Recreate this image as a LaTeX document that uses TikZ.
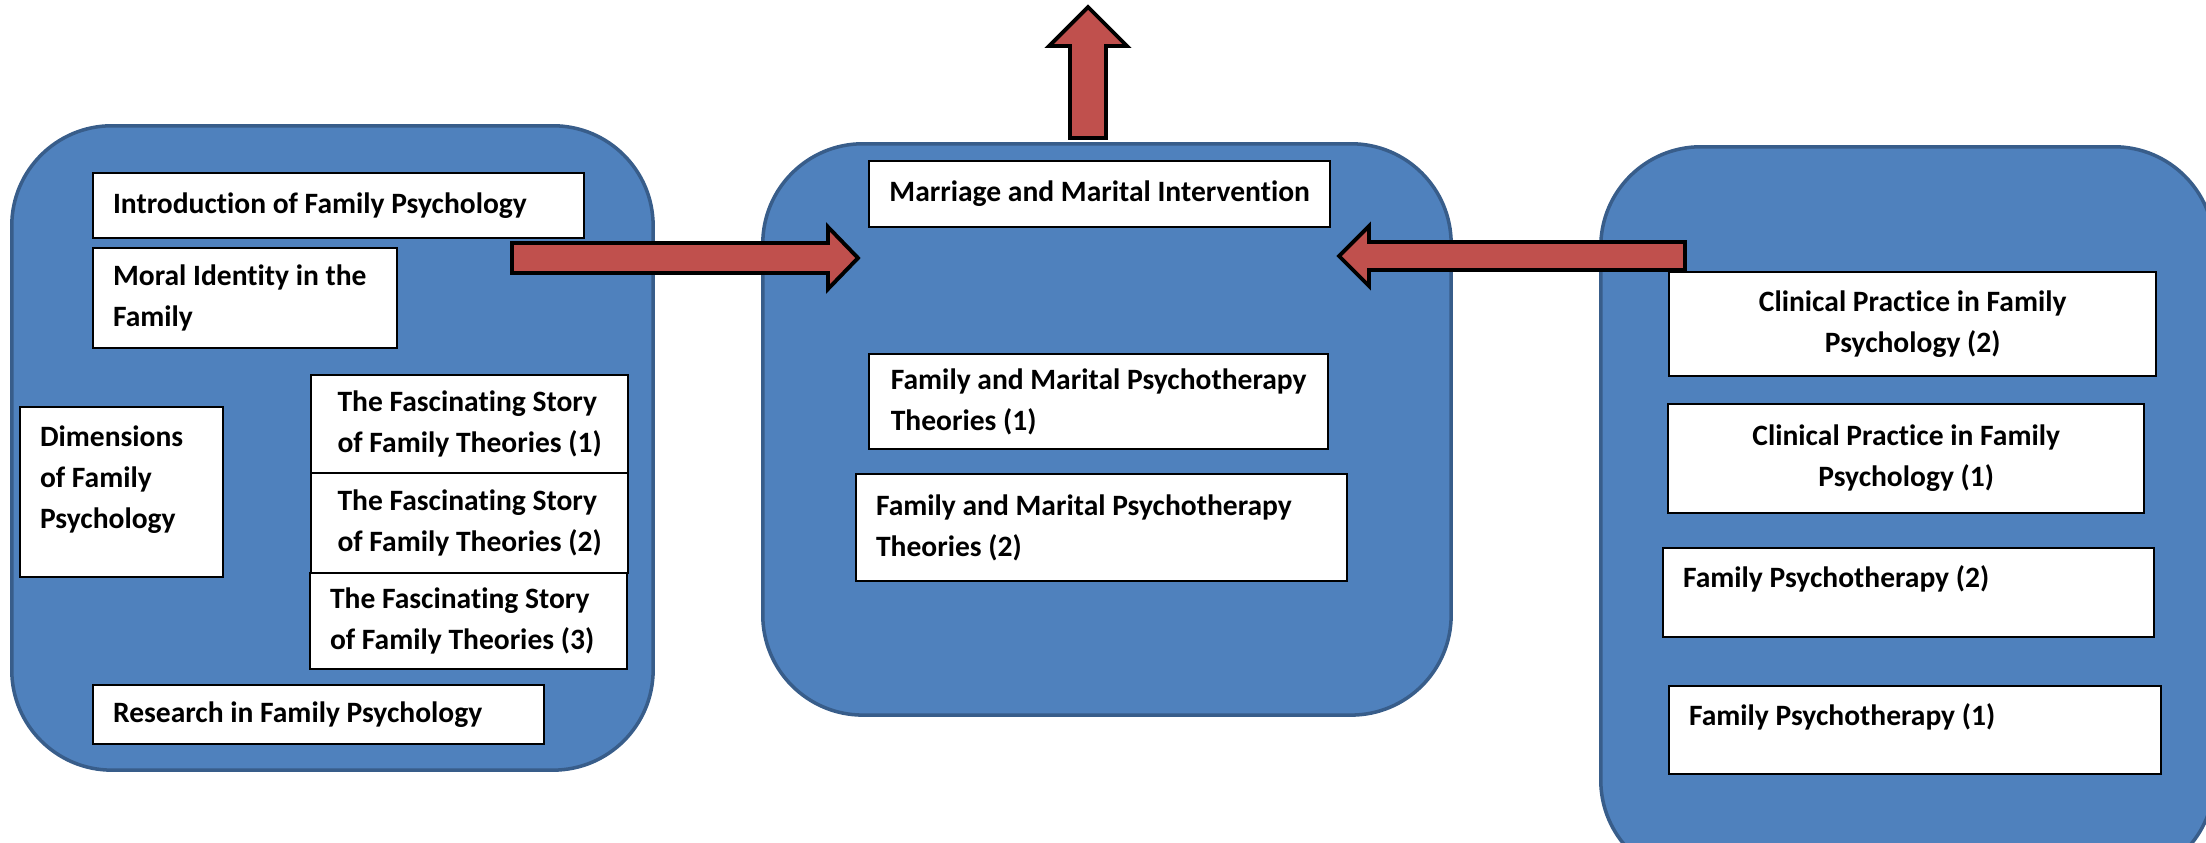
\documentclass[tikz,border=0pt]{standalone}
\usepackage{fontspec}
\setmainfont{Carlito}[Ligatures=NoCommon]
\usepackage{tikz}
\usetikzlibrary{calc}
\definecolor{panelblue}{HTML}{4F81BD}
\definecolor{panelline}{HTML}{385D8A}
\definecolor{arrowred}{HTML}{C0504D}
\newcommand{\famfont}{\bfseries\fontsize{8.4}{11.67}\selectfont}
\tikzset{
  panel/.style={
    rectangle, rounded corners=1cm, draw=panelline, fill=panelblue,
    line width=1pt, anchor=north west
  },
  topic/.style={
    rectangle, draw=black, fill=white, line width=0.6pt,
    inner xsep=0.2cm, inner ysep=0pt, align=flush left, anchor=north west,
    font=\famfont
  },
  blockarrow/.style={
    draw=black, fill=arrowred, line width=1.1pt, line join=miter
  }
}

\begin{document}
\begin{tikzpicture}[x=0.01cm, y=-0.01cm]
\useasboundingbox (0,0) rectangle (2206,842);
\clip (0,0) rectangle (2206,842);

% Panels
\node[panel, minimum width=6.41cm, minimum height=6.44cm] (basics) at (10,124) {};
\node[panel, minimum width=6.88cm, minimum height=5.71cm] (marital) at (761,142) {};
\node[panel, minimum width=6.13cm, minimum height=7.33cm] (clinical) at (1599,145) {};

% Left panel
\node[topic, text width=4.51cm, minimum height=0.65cm] (intro) at (92,172) {Introduction of Family Psychology};
\node[topic, text width=2.64cm, minimum height=1cm] (moral) at (92,247) {Moral Identity in the\\Family};
\node[topic, text width=1.63cm, text height=0.395cm, text depth=1.305cm] (dims) at (19,406) {Dimensions\\of Family\\Psychology};
\node[topic, minimum width=3.17cm, minimum height=0.98cm] (story1) at (310,374) {The Fascinating Story\\of Family Theories (1)};
\node[topic, minimum width=3.17cm, minimum height=1cm] (story2) at (310,472) {The Fascinating Story\\of Family Theories (2)};
\node[topic, text width=2.77cm, minimum height=0.96cm] (story3) at (309,572) {The Fascinating Story\\of Family Theories (3)};
\node[topic, text width=4.11cm, minimum height=0.59cm] (research) at (92,684) {Research in Family Psychology};

% Middle panel
\node[topic, minimum width=4.61cm, minimum height=0.66cm] (marriage) at (868,160) {Marriage and Marital Intervention};
\node[topic, minimum width=4.59cm, minimum height=0.95cm] (theory1) at (868,353) {Family and Marital Psychotherapy\\Theories (1)};
\node[topic, text width=4.51cm, minimum height=1.07cm] (theory2) at (855,473) {Family and Marital Psychotherapy\\Theories (2)};

% Right panel
\node[topic, align=center, minimum width=4.87cm, minimum height=1.04cm] (practice2) at (1668,271) {Clinical Practice in Family\\Psychology (2)};
\node[topic, align=center, minimum width=4.76cm, minimum height=1.09cm] (practice1) at (1667,403) {Clinical Practice in Family\\Psychology (1)};
\node[topic, text width=4.51cm, text height=0.395cm, text depth=0.495cm] (therapy2) at (1662,547) {Family Psychotherapy (2)};
\node[topic, text width=4.52cm, text height=0.395cm, text depth=0.485cm] (therapy1) at (1668,685) {Family Psychotherapy (1)};

% Arrows
\coordinate (basicsout) at (512,258);
\coordinate (maritalin) at (858,258);
\coordinate (clinicalout) at (1685,256);
\coordinate (maritalin2) at (1339,256);
\coordinate (maritalout) at (1088,138);
\coordinate (goal) at (1088,7);

\draw[blockarrow] ($(basicsout)+(0,-15)$) -- ($(maritalin)+(-30,-15)$) -- ($(maritalin)+(-30,-31)$)
  -- (maritalin) -- ($(maritalin)+(-30,31)$) -- ($(maritalin)+(-30,15)$) -- ($(basicsout)+(0,15)$) -- cycle;
\draw[blockarrow] ($(clinicalout)+(0,-14)$) -- ($(maritalin2)+(30,-14)$) -- ($(maritalin2)+(30,-30)$)
  -- (maritalin2) -- ($(maritalin2)+(30,30)$) -- ($(maritalin2)+(30,14)$) -- ($(clinicalout)+(0,14)$) -- cycle;
\draw[blockarrow] ($(maritalout)+(-18,0)$) -- ($(goal)+(-18,39)$) -- ($(goal)+(-39,39)$)
  -- (goal) -- ($(goal)+(39,39)$) -- ($(goal)+(18,39)$) -- ($(maritalout)+(18,0)$) -- cycle;

\end{tikzpicture}
\end{document}
